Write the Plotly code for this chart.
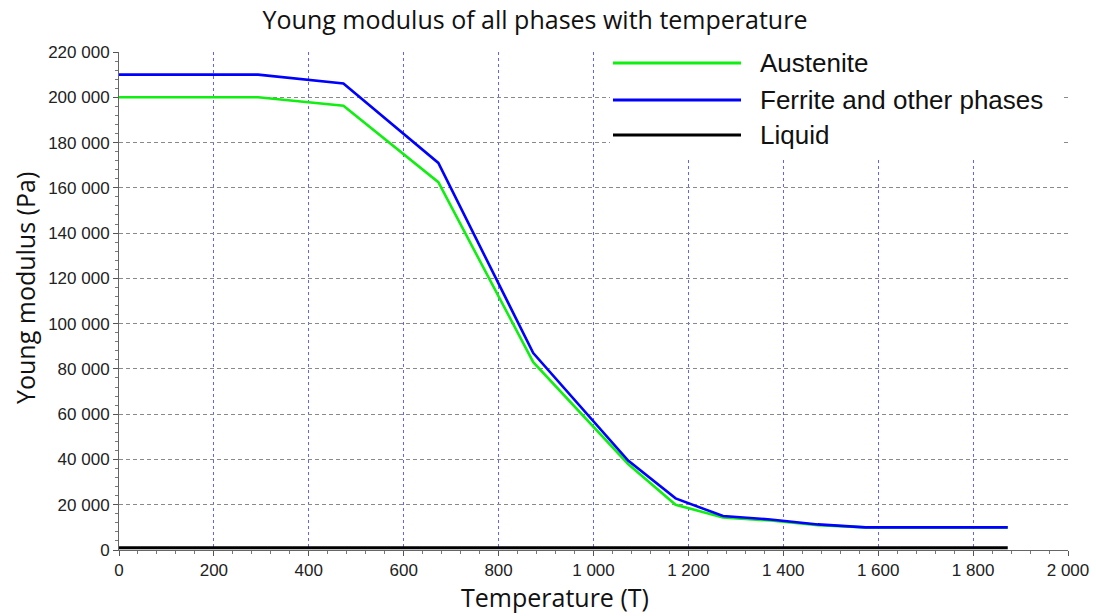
import plotly.graph_objects as go

# ---- data ----
temp_aus = [0, 293, 473, 673, 873, 1073, 1173, 1273, 1373, 1473, 1573, 1873]
young_aus = [200000, 200000, 196300, 162500, 83000, 38000, 20000, 14400, 13000, 11000, 10000, 10000]

temp_fer = [0, 293, 473, 673, 873, 1073, 1173, 1273, 1373, 1473, 1573, 1873]
young_fer = [210000, 210000, 206100, 171000, 87000, 39500, 22800, 15000, 13500, 11300, 10000, 10000]

temp_liq = [0, 1873]
young_liq = [1000, 1000]

x_ticks = [0, 200, 400, 600, 800, 1000, 1200, 1400, 1600, 1800, 2000]
y_ticks = [0, 20000, 40000, 60000, 80000, 100000, 120000, 140000, 160000, 180000, 200000, 220000]

series_names = ["Austenite", "Ferrite and other phases", "Liquid"]
series_colors = ["#11ee11", "#0000ff", "#000000"]

# ---- layout geometry (pixels) ----
W, H = 1096, 616
L, R, T, B = 119, 1068, 52, 550
PW, PH = R - L, B - T


def px(x):
    return (x - L) / PW


def py(y):
    return (B - y) / PH


fig = go.Figure()
fig.add_trace(go.Scatter(x=temp_aus, y=young_aus, mode="lines", name=series_names[0],
                         line=dict(color=series_colors[0], width=2.6), showlegend=False))
fig.add_trace(go.Scatter(x=temp_fer, y=young_fer, mode="lines", name=series_names[1],
                         line=dict(color=series_colors[1], width=2.6), showlegend=False))
fig.add_trace(go.Scatter(x=temp_liq, y=young_liq, mode="lines", name=series_names[2],
                         line=dict(color=series_colors[2], width=3), showlegend=False))

tickfont = dict(family="Liberation Sans, Arial, sans-serif", size=17, color="#222")

fig.update_layout(
    width=W, height=H,
    margin=dict(l=L, r=W - R, t=T, b=H - B, autoexpand=False),
    paper_bgcolor="white", plot_bgcolor="white",
    separators=". ",
    title=dict(text="Young modulus of all phases with temperature",
               x=535 / W, xref="container", xanchor="center",
               y=1 - 20 / H, yref="container", yanchor="middle",
               font=dict(family="Open Sans, sans-serif", size=25, color="#111")),
    xaxis=dict(range=[0, 2000], tickvals=x_ticks, separatethousands=True,
               exponentformat="none", automargin=False,
               showgrid=True, gridcolor="rgba(70,70,255,0.85)", griddash="3px,3px", gridwidth=1.3,
               zeroline=False, showline=True, linecolor="#666", linewidth=1,
               ticks="outside", ticklen=5, tickcolor="#555",
               minor=dict(dtick=40, ticks="outside", ticklen=3, tickcolor="#777", showgrid=False),
               tickfont=tickfont),
    yaxis=dict(range=[0, 220000], tickvals=y_ticks, separatethousands=True,
               exponentformat="none", automargin=False,
               showgrid=True, gridcolor="#8a8a8a", griddash="4px,3px", gridwidth=1,
               zeroline=False, showline=True, linecolor="#666", linewidth=1,
               ticks="outside", ticklen=5, tickcolor="#555",
               minor=dict(dtick=4000, ticks="outside", ticklen=3, tickcolor="#777", showgrid=False),
               tickfont=tickfont),
)

# axis titles
fig.add_annotation(text="Temperature (T)", xref="paper", yref="paper",
                   x=px(555), y=py(615), xanchor="center", yanchor="bottom", showarrow=False,
                   borderpad=0,
                   font=dict(family="Open Sans, sans-serif", size=25, color="#111"))
fig.add_annotation(text="Young modulus (Pa)", xref="paper", yref="paper",
                   x=px(25), y=py(288), xanchor="center", yanchor="middle", showarrow=False,
                   textangle=-90,
                   font=dict(family="Open Sans, sans-serif", size=25, color="#111"))

# custom legend with long line samples
fig.add_shape(type="rect", xref="paper", yref="paper",
              x0=px(610), x1=px(1063), y0=py(158), y1=py(45),
              fillcolor="white", line=dict(width=0), layer="above")
legend_rows = [63, 100, 135]
for name, color, row in zip(series_names, series_colors, legend_rows):
    fig.add_shape(type="line", xref="paper", yref="paper",
                  x0=px(613), x1=px(741), y0=py(row), y1=py(row),
                  line=dict(color=color, width=3), layer="above")
    fig.add_annotation(text=name, xref="paper", yref="paper",
                       x=px(758), y=py(row), xanchor="left", yanchor="middle", showarrow=False,
                       font=dict(family="Liberation Sans, Arial, sans-serif", size=26, color="#111"))

fig.write_html("out.html")
